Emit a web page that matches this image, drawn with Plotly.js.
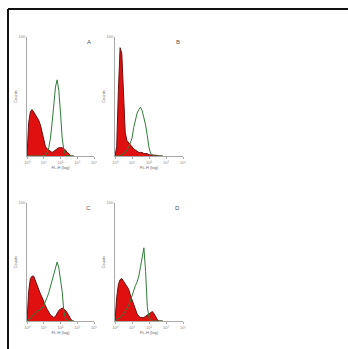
<!DOCTYPE html>
<html><head><meta charset="utf-8">
<script src="https://cdn.plot.ly/plotly-3.0.1.min.js"></script>
<style>html,body{margin:0;padding:0;background:#fff}#c{width:348px;height:349px}</style>
</head><body><div id="c"></div>
<script>
// log10 fluorescence channel (decades)
const logFL = [0,0.1,0.2,0.3,0.4,0.5,0.6,0.7,0.8,0.9,1.0,1.1,1.2,1.3,1.4,1.5,1.6,1.7,1.8,1.9,2.0,2.1,2.2,2.3,2.4,2.5,2.6,2.7,2.8];
const panelLabels = ['A','B','C','D'];
const xTickVals = [0,1,2,3,4];
const xTickText = ['10⁰','10¹','10²','10³','10⁴'];
// filled (red) histograms
const redA = [0,28,37,39,37,35,32,30,26,20,13,8,6,5,4,3,4,5,6,7,7,7,6,5,3,2,0,0,0];
const redB = [0,8,55,91,86,52,20,13,11,10,8,6,5,4,3,3,3,2,2,2,1,1,1,1,1,0.5,0,0,0];
const redC = [0,25,36,38,38,34,30,27,23,20,16,13,10,7,5,4,3,4,7,9,10,11,10,9,7,4,2,0,0];
const redD = [0,20,31,35,36,34,32,30,27,22,18,13,9,6,4,3,3,3,4,5,6,7,8,6,3,1,0,0,0];
// open (green) histograms
const greenA = [0,0,0,0,0,0,0,0,0,0,0,1,3,7,15,28,45,58,64,55,36,15,5,1,0,0,0,0,0];
const greenB = [0,0,0,0,1,2,3,5,7,11,15,24,31,36,39,41,38,33,26,17,7,2,1,0,0,0,0,0,0];
const greenC = [0,1,2,4,5,7,8,9,10,11,13,16,20,24,29,35,41,46,50,45,36,25,8,2,1,0,0,0,0];
const greenD = [0,1,2,3,4,6,8,11,13,17,22,26,30,33,38,46,55,62,42,12,3,1,0,0,0,0,0,0,0];

const reds = [redA, redB, redC, redD];
const greens = [greenA, greenB, greenC, greenD];

const W = 348, H = 349;
const xDom = [[27/W, 94/W],[115/W,183/W],[27/W,94/W],[115/W,183/W]];
const yDom = [[1-156/H, 1-37/H],[1-156/H, 1-37/H],[1-321/H, 1-203/H],[1-321/H, 1-203/H]];

const data = [];
const layout = {
  width: W, height: H, margin:{l:0,r:0,t:0,b:0},
  paper_bgcolor:'#fff', plot_bgcolor:'rgba(0,0,0,0)', showlegend:false,
  font:{family:'Liberation Sans, Arial, sans-serif', size:4, color:'#777'},
  annotations:[], shapes:[]
};
for (let i=0;i<4;i++){
  const s = i===0 ? '' : String(i+1);
  data.push({x:logFL, y:reds[i], type:'scatter', mode:'lines', fill:'tozeroy',
    fillcolor:'#e01010', line:{color:'#6a1010', width:1, shape:'linear'},
    xaxis:'x'+s, yaxis:'y'+s, hoverinfo:'skip'});
  data.push({x:logFL, y:greens[i], type:'scatter', mode:'lines',
    line:{color:'#2f7d3a', width:1}, xaxis:'x'+s, yaxis:'y'+s, hoverinfo:'skip'});
  layout['xaxis'+s] = {domain:xDom[i], anchor:'y'+s, range:[0,4], showgrid:false, zeroline:false,
    showline:true, linecolor:'#aaa', linewidth:1, ticks:'outside', ticklen:2, tickcolor:'#aaa',
    tickvals:xTickVals, ticktext:xTickText, tickfont:{size:4, color:'#888'},
    title:{text:'FL-H (log)', font:{size:4, color:'#666'}, standoff:2}};
  layout['yaxis'+s] = {domain:yDom[i], anchor:'x'+s, range:[0,100], showgrid:false, zeroline:false,
    showline:true, linecolor:'#aaa', linewidth:1, ticks:'', tickvals:[100], ticktext:['100'],
    tickfont:{size:4, color:'#888'},
    title:{text:'Counts', font:{size:4, color:'#666'}, standoff:1}};
  layout.annotations.push({text:panelLabels[i], xref:'paper', yref:'paper',
    x: xDom[i][1]-0.015, y: yDom[i][1]-0.015, showarrow:false,
    font:{size:6, color:'#555'}, xanchor:'center', yanchor:'middle'});
}
layout.shapes.push({type:'line', xref:'paper', yref:'paper', x0:8/W, x1:8/W, y0:0, y1:1-9/H, line:{color:'#111', width:2}});
layout.shapes.push({type:'line', xref:'paper', yref:'paper', x0:8/W, x1:1, y0:1-9/H, y1:1-9/H, line:{color:'#111', width:2}});
Plotly.newPlot('c', data, layout, {staticPlot:true, displayModeBar:false});
</script></body></html>
